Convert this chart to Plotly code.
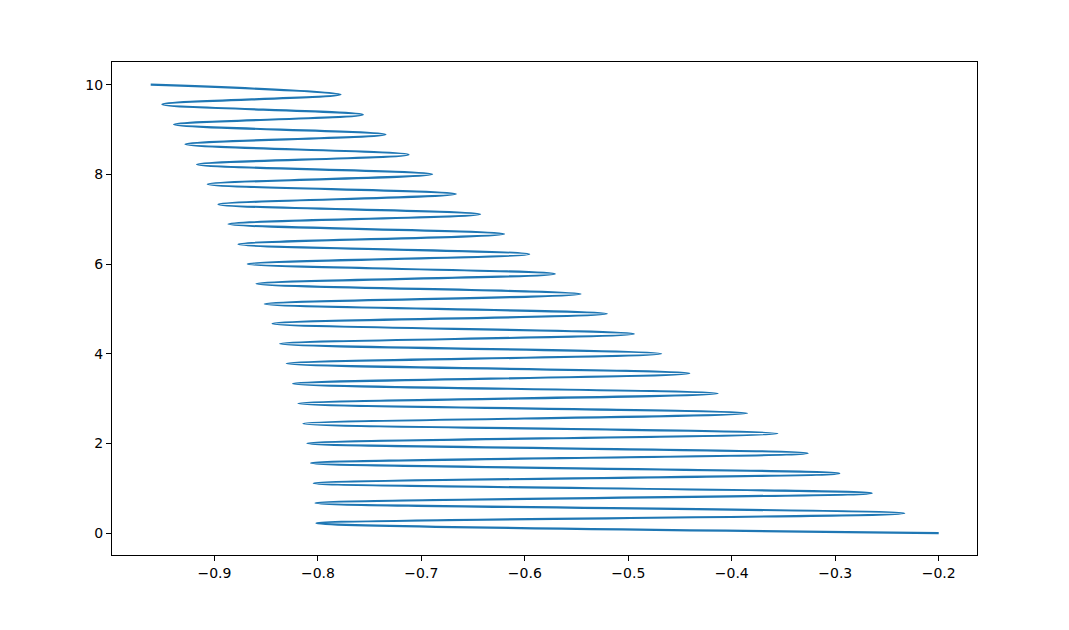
import plotly.graph_objects as go

# Turning points of the curve (bottom to top)
y_vals = [0.00, 0.22, 0.44, 0.67, 0.89, 1.11, 1.33, 1.56, 1.78, 2.00,
          2.22, 2.44, 2.67, 2.89, 3.11, 3.33, 3.56, 3.78, 4.00, 4.22,
          4.44, 4.67, 4.89, 5.11, 5.33, 5.56, 5.78, 6.00, 6.22, 6.44,
          6.67, 6.89, 7.11, 7.33, 7.56, 7.78, 8.00, 8.22, 8.44, 8.67,
          8.89, 9.11, 9.33, 9.56, 9.78, 10.00]

right_x = [-0.2000, -0.2333, -0.2648, -0.2961, -0.3267, -0.3560, -0.3853,
           -0.4137, -0.4411, -0.4682, -0.4946, -0.5207, -0.5461, -0.5710,
           -0.5958, -0.6200, -0.6432, -0.6667, -0.6896, -0.7124, -0.7347,
           -0.7566, -0.7782]
left_x = [-0.8014, -0.8023, -0.8040, -0.8066, -0.8101, -0.8139, -0.8188,
          -0.8240, -0.8301, -0.8366, -0.8439, -0.8514, -0.8594, -0.8678,
          -0.8768, -0.8864, -0.8961, -0.9065, -0.9168, -0.9280, -0.9390,
          -0.9503, -0.9616]

x_vals = []
for r, l in zip(right_x, left_x):
    x_vals.append(r)
    x_vals.append(l)

x_ticks = [-0.9, -0.8, -0.7, -0.6, -0.5, -0.4, -0.3, -0.2]
y_ticks = [0, 2, 4, 6, 8, 10]

fig = go.Figure()
fig.add_trace(go.Scatter(
    x=x_vals, y=y_vals, mode="lines",
    line=dict(color="#1f77b4", width=2.2, shape="spline", smoothing=1),
    showlegend=False, hoverinfo="skip",
))

axis_common = dict(
    showgrid=False, zeroline=False, showline=True, mirror=True,
    linecolor="black", linewidth=1, ticks="outside", ticklen=5,
    tickwidth=1, tickcolor="black",
    tickfont=dict(family="DejaVu Sans", size=14, color="black"),
)
fig.update_xaxes(range=[-0.999, -0.163], tickvals=x_ticks,
                 ticktext=["\u2212%.1f" % abs(v) for v in x_ticks], **axis_common)
fig.update_yaxes(range=[-0.49, 10.506], tickvals=y_ticks,
                 ticktext=[str(v) for v in y_ticks], **axis_common)

fig.update_layout(
    width=1061, height=614, autosize=False,
    margin=dict(l=104, r=92, t=54, b=67),
    paper_bgcolor="white", plot_bgcolor="white",
)

fig.write_html("out.html")
